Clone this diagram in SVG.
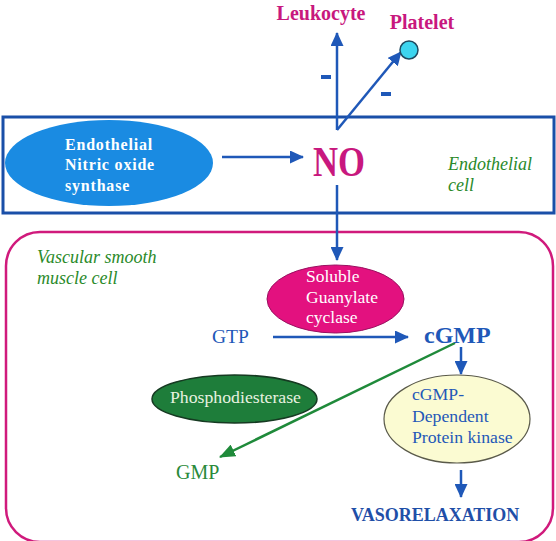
<svg xmlns="http://www.w3.org/2000/svg" width="556" height="541" viewBox="0 0 556 541">
<style>
text{font-family:"Liberation Serif","Times New Roman",serif}
.blue{stroke:#1f58b8;stroke-width:2.5;fill:none}
.green{stroke:#1f8a3a;stroke-width:2.5;fill:none}
.mag{fill:#c8187e;font-weight:bold}
.it{fill:#2a8a2a;font-style:italic}
</style>
<defs>
<marker id="ab" viewBox="0 0 14 13" refX="13" refY="6.5" markerWidth="14" markerHeight="13" markerUnits="userSpaceOnUse" orient="auto"><path d="M0,0 L14,6.5 L0,13 z" fill="#1f58b8"/></marker>
<marker id="ag" viewBox="0 0 16 13" refX="15" refY="6.5" markerWidth="16" markerHeight="13" markerUnits="userSpaceOnUse" orient="auto"><path d="M0,0 L16,6.5 L0,13 z" fill="#1f8a3a"/></marker>
</defs>
<rect width="556" height="541" fill="#fff"/>
<g id="endothelial-cell">
<rect x="3" y="117" width="551" height="96" fill="none" stroke="#1a4fa8" stroke-width="3"/>
<text class="it" font-family="Liberation Serif, serif" font-size="18" x="448" y="170">Endothelial</text>
<text class="it" font-family="Liberation Serif, serif" font-size="18" x="448" y="191">cell</text>
</g>
<g id="vsm-cell">
<rect x="6" y="232" width="547" height="310" rx="34" ry="34" fill="none" stroke="#d01a7c" stroke-width="2.5"/>
<text class="it" font-family="Liberation Serif, serif" font-size="18" x="37" y="263">Vascular smooth</text>
<text class="it" font-family="Liberation Serif, serif" font-size="18" x="37" y="284">muscle cell</text>
</g>
<g id="connectors">
<line class="blue" x1="337" y1="130" x2="337" y2="33" marker-end="url(#ab)"/>
<line class="blue" x1="337" y1="130" x2="401" y2="52" marker-end="url(#ab)"/>
<line class="blue" x1="222" y1="157" x2="303" y2="157" marker-end="url(#ab)"/>
<line class="blue" x1="337" y1="185" x2="337" y2="260" marker-end="url(#ab)"/>
<line class="blue" x1="273" y1="337" x2="408" y2="337" marker-end="url(#ab)"/>
<line class="blue" x1="461" y1="347" x2="461" y2="374" marker-end="url(#ab)"/>
<line class="blue" x1="461" y1="470" x2="461" y2="497" marker-end="url(#ab)"/>
<line class="green" x1="455" y1="343" x2="220" y2="457" marker-end="url(#ag)"/>
</g>
<g id="minus-signs" fill="#1f58b8">
<rect x="321" y="75" width="10" height="4"/>
<rect x="381" y="92" width="10" height="4"/>
</g>
<g id="leukocyte">
<text class="mag" font-family="Liberation Serif, serif" font-size="20" x="321" y="20" text-anchor="middle">Leukocyte</text>
</g>
<g id="platelet">
<text class="mag" font-family="Liberation Serif, serif" font-size="20" x="422" y="29" text-anchor="middle">Platelet</text>
<circle cx="409" cy="50" r="9" fill="#3dd5ef" stroke="#1f4a60" stroke-width="1.5"/>
</g>
<g id="enos">
<ellipse cx="109" cy="163" rx="104" ry="43" fill="#1a8be2"/>
<g font-family="Liberation Serif, serif" font-size="16" font-weight="bold" fill="#fff" letter-spacing="0.8">
<text x="65" y="150">Endothelial</text>
<text x="65" y="170">Nitric oxide</text>
<text x="65" y="191">synthase</text>
</g>
</g>
<g id="no">
<text class="mag" font-family="Liberation Serif, serif" font-size="42" x="313" y="176" textLength="52" lengthAdjust="spacingAndGlyphs">NO</text>
</g>
<g id="sgc">
<ellipse cx="335.5" cy="299" rx="68.5" ry="34" fill="#e3117f" stroke="#9a1060" stroke-width="1"/>
<g font-family="Liberation Serif, serif" font-size="17.5" fill="#fff">
<text x="306" y="282">Soluble</text>
<text x="306" y="303">Guanylate</text>
<text x="306" y="323">cyclase</text>
</g>
</g>
<g id="gtp">
<text font-family="Liberation Serif, serif" font-size="19.5" fill="#1f58b8" x="212" y="343">GTP</text>
</g>
<g id="cgmp">
<text font-family="Liberation Serif, serif" font-size="24" font-weight="bold" fill="#1f58b8" x="424" y="343">cGMP</text>
</g>
<g id="pde">
<ellipse cx="234.5" cy="399" rx="82.5" ry="24" fill="#1e7d3a" stroke="#163a22" stroke-width="1.5"/>
<text font-family="Liberation Serif, serif" font-size="17.5" fill="#e8f2e0" x="170" y="403" textLength="131" lengthAdjust="spacingAndGlyphs">Phosphodiesterase</text>
</g>
<g id="gmp">
<text font-family="Liberation Serif, serif" font-size="20" fill="#2a8a3a" x="176" y="479">GMP</text>
</g>
<g id="pkg">
<ellipse cx="457" cy="419" rx="73" ry="44" fill="#fbfbd2" stroke="#5a5a4a" stroke-width="1.2"/>
<g font-family="Liberation Serif, serif" font-size="17.7" fill="#1f58b8">
<text x="412" y="400">cGMP-</text>
<text x="412" y="422">Dependent</text>
<text x="412" y="443">Protein kinase</text>
</g>
</g>
<g id="vasorelaxation">
<text font-family="Liberation Serif, serif" font-size="18" font-weight="bold" fill="#1f4fa8" x="351" y="521">VASORELAXATION</text>
</g>
</svg>
